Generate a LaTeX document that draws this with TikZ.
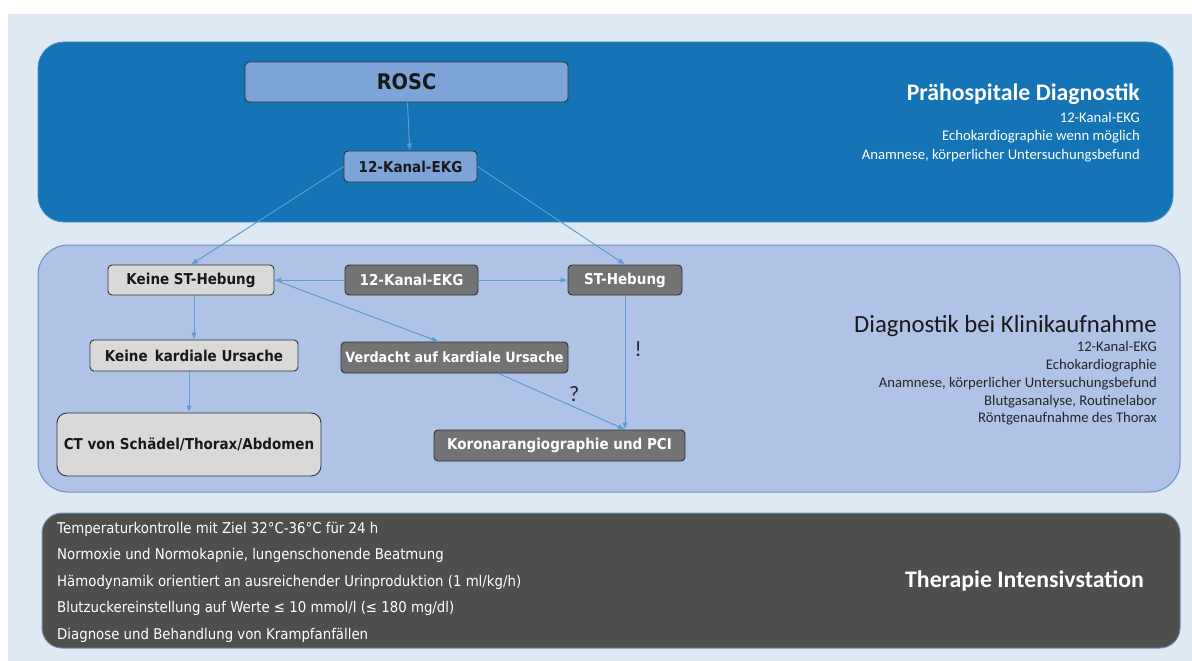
\documentclass[tikz,border=0pt]{standalone}
\usepackage{fontspec}
\setmainfont{Carlito}
\newfontfamily\boxfont{DejaVu Sans}[FakeStretch=0.9]
\usetikzlibrary{arrows.meta, positioning}

\definecolor{pagebg}{HTML}{DFE9F4}
\definecolor{preband}{HTML}{1474B6}
\definecolor{clinband}{HTML}{AEC3E6}
\definecolor{clinline}{HTML}{6A90C4}
\definecolor{icuband}{HTML}{4E4E4C}
\definecolor{iculine}{HTML}{6E8CB0}
\definecolor{boxline}{HTML}{2F3338}
\definecolor{boxblue}{HTML}{7CA4D6}
\definecolor{boxlight}{HTML}{D9D9D9}
\definecolor{boxdark}{HTML}{737373}
\definecolor{flowblue}{HTML}{5E9BD3}

\begin{document}
\begin{tikzpicture}[x=1bp, y=-1bp, >={Latex[length=7bp,width=5.5bp]},
  box/.style={draw=boxline, line width=0.9bp, rounded corners=4bp, inner sep=0pt,
    font=\boxfont\bfseries\fontsize{15bp}{18bp}\selectfont},
  bluebox/.style={box, fill=boxblue, text=black!90},
  lightbox/.style={box, fill=boxlight, text=black!90},
  darkbox/.style={box, fill=boxdark, text=white},
  flow/.style={->, draw=flowblue, line width=1bp},
  headline/.style={inner sep=0pt, anchor=base east, font=\fontsize{24bp}{28bp}\selectfont},
  infolist/.style={inner sep=0pt, anchor=north east, align=right, font=\fontsize{14.7bp}{18.5bp}\selectfont},
  marktext/.style={inner sep=0pt, text=black!85, font=\fontsize{22bp}{26bp}\selectfont}]
  \useasboundingbox (0,0) rectangle (1192,661);
  \fill[pagebg] (8,14) rectangle (1192,661);

  % three bands
  \draw[fill=preband, draw=preband!80!white, line width=0.8bp, rounded corners=26bp] (38,42) rectangle (1173,222);
  \draw[fill=clinband, draw=clinline, line width=1bp, rounded corners=30bp] (38,245) rectangle (1180,492);
  \draw[fill=icuband, draw=iculine, line width=1bp, rounded corners=20bp] (42,513) rectangle (1180,648);

  % praehospital
  \node[bluebox, minimum width=323bp, minimum height=40bp, font=\boxfont\bfseries\fontsize{21.5bp}{25bp}\selectfont] (rosc) at (406.5,82) {ROSC};
  \node[bluebox, minimum width=133bp, minimum height=31bp] (ekgpre) at (410.5,166.5) {12-Kanal-EKG};
  \node[headline, text=white, font=\bfseries\fontsize{23.8bp}{28bp}\selectfont] (pretitle) at (1140,101) {Prähospitale Diagnostik};
  \node[infolist, text=white, below=11bp of pretitle.base east, anchor=north east] (preinfo)
    {12-Kanal-EKG\\Echokardiographie wenn möglich\\Anamnese, körperlicher Untersuchungsbefund};

  % klinik
  \node[lightbox, minimum width=166bp, minimum height=30bp] (nost) at (191,280) {Keine ST-Hebung};
  \node[darkbox, minimum width=133bp, minimum height=30bp] (ekgclin) at (411.5,280) {12-Kanal-EKG};
  \node[darkbox, minimum width=114bp, minimum height=30bp] (stelev) at (625,280) {ST-Hebung};
  \node[lightbox, minimum width=208bp, minimum height=31bp] (noncard) at (194,355.5) {Keine\, kardiale Ursache};
  \node[darkbox, minimum width=227bp, minimum height=31bp, font=\boxfont\bfseries\fontsize{14.2bp}{18bp}\selectfont] (suspect) at (454.5,357.5) {Verdacht auf kardiale Ursache};
  \node[lightbox, minimum width=264bp, minimum height=63bp, rounded corners=10bp] (ct) at (189,444.5) {CT von Schädel/Thorax/Abdomen};
  \node[darkbox, minimum width=251bp, minimum height=31bp] (pci) at (559.5,445.5) {Koronarangiographie und PCI};
  \node[headline, text=black!90, font=\fontsize{24.7bp}{28bp}\selectfont] (clintitle) at (1157,332) {Diagnostik bei Klinikaufnahme};
  \node[infolist, text=black!85, below=9.5bp of clintitle.base east, anchor=north east, font=\fontsize{14.7bp}{17.7bp}\selectfont] (clininfo)
    {12-Kanal-EKG\\Echokardiographie\\Anamnese, körperlicher Untersuchungsbefund\\Blutgasanalyse, Routinelabor\\Röntgenaufnahme des Thorax};

  % intensiv
  \node[inner sep=0pt, anchor=north west, align=left, text=white,
    font=\boxfont\fontsize{14.8bp}{26.5bp}\selectfont] (icuinfo) at (57,522)
    {Temperaturkontrolle mit Ziel 32°C-36°C für 24 h\\
     Normoxie und Normokapnie, lungenschonende Beatmung\\
     Hämodynamik orientiert an ausreichender Urinproduktion (1 ml/kg/h)\\
     Blutzuckereinstellung auf Werte ≤ 10 mmol/l (≤ 180 mg/dl)\\
     Diagnose und Behandlung von Krampfanfällen};
  \node[headline, text=white, font=\bfseries\fontsize{23.8bp}{28bp}\selectfont] (icutitle) at (1144,587) {Therapie Intensivstation};

  % connectors
  \coordinate (pcientry) at (stelev.south |- pci.north);
  \draw[flow] (rosc) -- (ekgpre);
  \draw[flow] (ekgpre.west) -- (nost.north);
  \draw[flow] (ekgpre.east) -- (stelev.north);
  \draw[flow] (ekgclin) -- (nost);
  \draw[flow] (ekgclin) -- (stelev);
  \draw[flow] (nost.south -| noncard.north) -- (noncard.north);
  \draw[flow] (ct.north |- noncard.south) -- (ct.north);
  \draw[flow] (nost.east) -- (suspect.135);
  \draw[flow] (stelev.south) -- node[marktext, pos=0.4, right=9bp] (must) {!} (pcientry);
  \draw[flow] (suspect.-20) -- node[marktext, pos=0.6, above=5bp] (maybe) {?} (pcientry);
\end{tikzpicture}
\end{document}
